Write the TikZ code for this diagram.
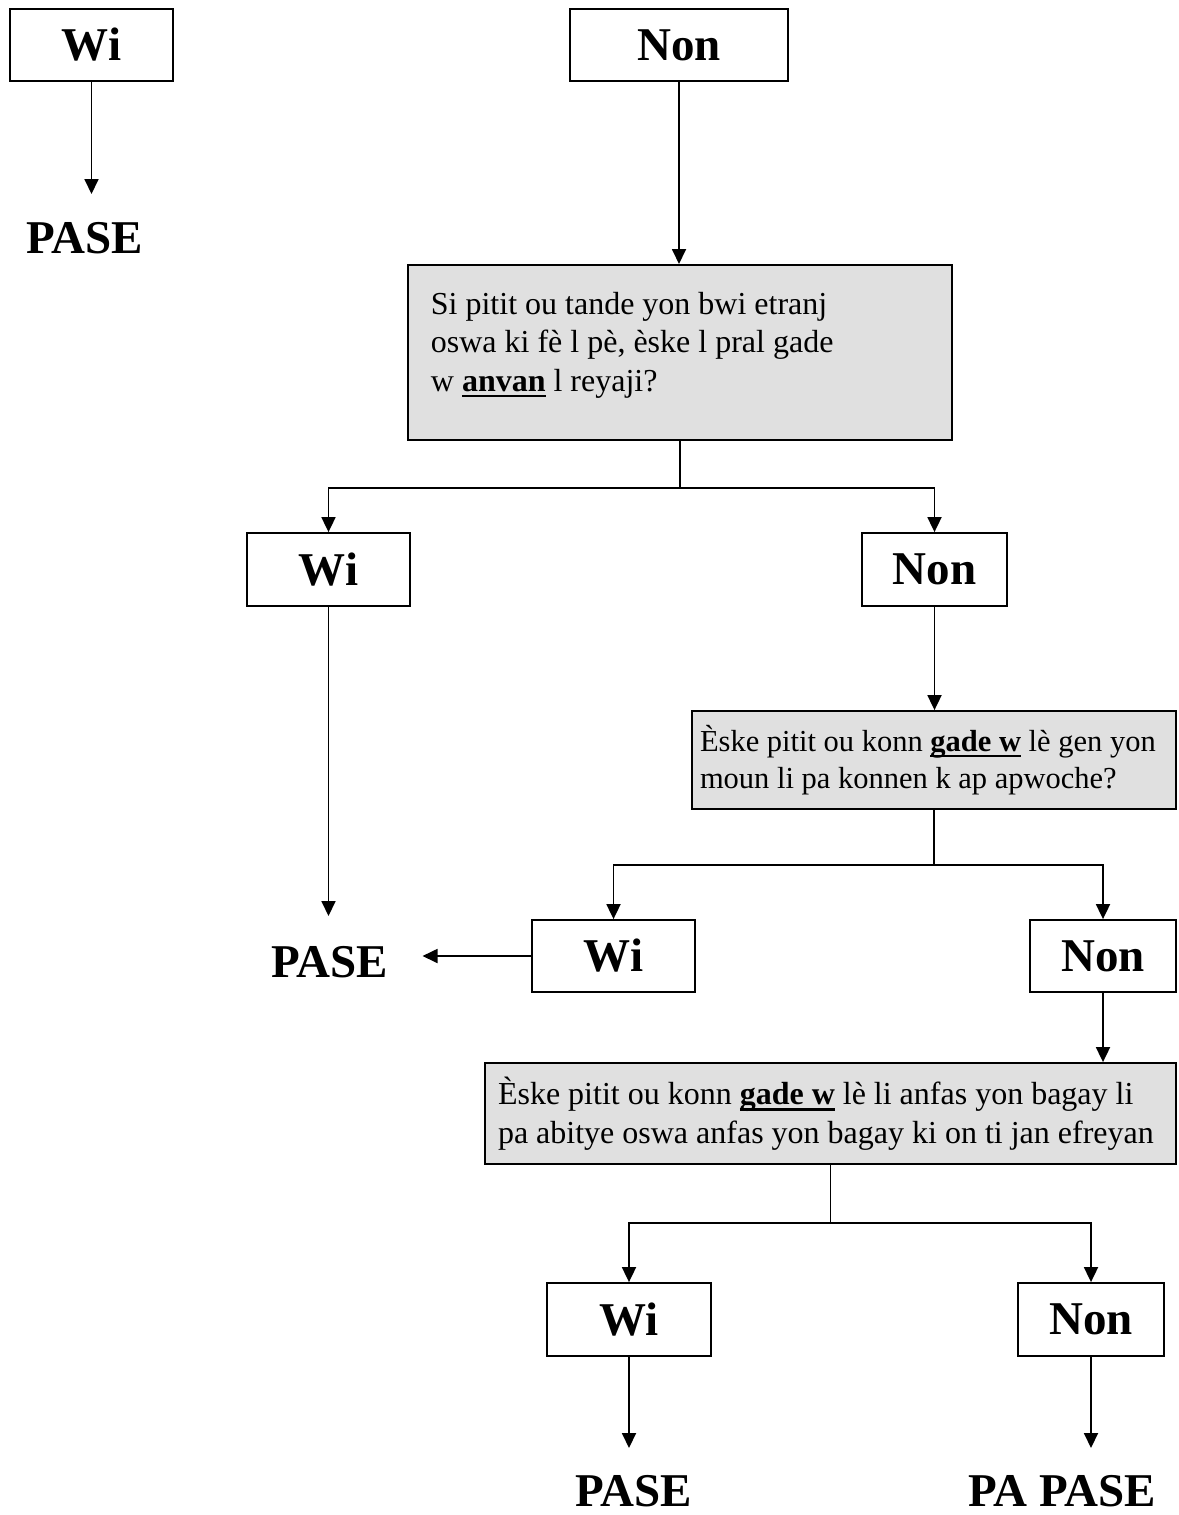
\documentclass[tikz,border=0pt]{standalone}
\usepackage{fontspec}
\setmainfont{Liberation Serif}
\usetikzlibrary{arrows.meta,positioning}
\definecolor{qgray}{RGB}{224,224,224}
% bold word with a heavy underline
\newcommand{\ulword}[1]{\setbox0\hbox{\textbf{#1}}\rlap{\rule[-6pt]{\wd0}{2.5pt}}\box0\relax}
\tikzset{
  ans/.style={draw, line width=1.8pt, inner sep=0pt, font=\fontsize{47}{50}\selectfont\bfseries},
  result/.style={inner sep=0pt, font=\fontsize{47}{50}\selectfont\bfseries},
  qbox/.style={draw, line width=1.8pt, fill=qgray, font=\fontsize{32}{38.5}\selectfont},
  arr/.style={line width=1.8pt, -{Triangle[length=15pt,width=14pt]}},
  gap/.style={shorten >=#1}
}
\begin{document}
\begin{tikzpicture}[x=1pt,y=-1pt]
\useasboundingbox (0,0) rectangle (1178,1515);

% first row
\node[ans, minimum width=163pt, minimum height=72pt] (wiA) at (91.5,45) {Wi};
\node[ans, minimum width=218pt, minimum height=72pt] (nonA) at (679,45) {Non};
\node[result] (paseA) at (85,238) {PASE};

% first question
\node[qbox, inner xsep=23pt, inner ysep=27pt, anchor=north west] (qOne) at (407,264)
  {\parbox[t][121pt][t]{498pt}{Si pitit ou tande yon bwi etranj\\
   oswa ki fè l pè, èske l pral gade\\
   w \ulword{anvan} l reyaji?}};

\node[ans, minimum width=163pt, minimum height=73pt] (wiB) at (328.5,569.5) {Wi};
\node[ans, minimum width=145pt, minimum height=73pt] (nonB) at (934.5,569.5) {Non};
\node[result] (paseB) at (330,962) {PASE};

% second question
\node[qbox, font=\fontsize{30.5}{37}\selectfont, align=flush left, text width=468pt, inner xsep=8pt,
      minimum height=98pt] (qTwo) at (934,760)
  {Èske pitit ou konn \ulword{gade w} lè gen yon\\
   moun li pa konnen k ap apwoche?};

\node[ans, minimum width=163pt, minimum height=72pt] (wiC) at (613.5,956) {Wi};
\node[ans, minimum width=146pt, minimum height=72pt] (nonC) at (1103,956) {Non};

% third question
\node[qbox, align=flush left, text width=665pt, inner xsep=13pt, minimum height=101pt] (qThree) at (830.5,1113.5)
  {Èske pitit ou konn \ulword{gade w} lè li anfas yon bagay li\\
   pa abitye oswa anfas yon bagay ki on ti jan efreyan};

\node[ans, minimum width=164pt, minimum height=73pt] (wiD) at (629,1319.5) {Wi};
\node[ans, minimum width=146pt, minimum height=73pt] (nonD) at (1091,1319.5) {Non};
\node[result] (paseC) at (634,1491) {PASE};
\node[result] (paPase) at (1062,1491) {PA PASE};

% connectors
\draw[arr, gap=28pt] (wiA.south) -- (wiA.south |- paseA.north);
\draw[arr] (nonA.south) -- (nonA.south |- qOne.north);
\draw[arr] (qOne.south) -- ++(0,47) -| (wiB.north);
\draw[arr] (qOne.south) -- ++(0,47) -| (nonB.north);
\draw[arr, gap=30pt] (wiB.south) -- (wiB.south |- paseB.north);
\draw[arr] (nonB.south) -- (nonB.south |- qTwo.north);
\draw[arr] (qTwo.south) -- ++(0,55) -| (wiC.north);
\draw[arr] (qTwo.south) -- ++(0,55) -| (nonC.north);
\draw[arr, gap=34pt] (wiC.west) -- (wiC.west -| paseB.east);
\draw[arr] (nonC.south) -- (nonC.south |- qThree.north);
\draw[arr] (qThree.south) -- ++(0,58) -| (wiD.north);
\draw[arr] (qThree.south) -- ++(0,58) -| (nonD.north);
\draw[arr, gap=27pt] (wiD.south) -- (wiD.south |- paseC.north);
\draw[arr, gap=27pt] (nonD.south) -- (nonD.south |- paPase.north);
\end{tikzpicture}
\end{document}
